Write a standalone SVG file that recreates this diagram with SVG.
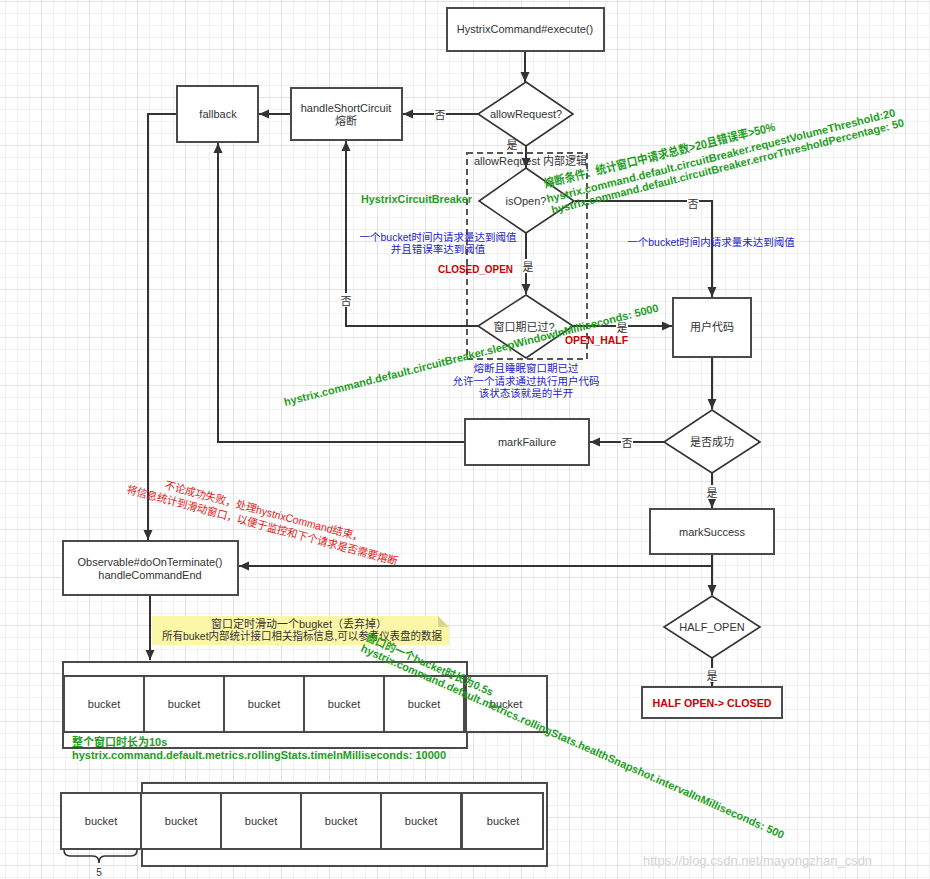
<svg xmlns="http://www.w3.org/2000/svg" width="930" height="879" viewBox="0 0 930 879">
<defs>
<pattern id="grid" x="41" y="1" width="48" height="48" patternUnits="userSpaceOnUse">
<rect width="48" height="48" fill="#ffffff"/>
<path d="M12.5 0V48M24.5 0V48M36.5 0V48M0 12.5H48M0 24.5H48M0 36.5H48" stroke="#f0f0f0" stroke-width="1"/>
<path d="M0.5 0V48M0 0.5H48" stroke="#e3e3e3" stroke-width="1"/>
</pattern>
<marker id="ah" viewBox="0 0 10 10" refX="10" refY="5" markerWidth="10" markerHeight="10" markerUnits="userSpaceOnUse" orient="auto">
<path d="M0,0.5 L10,5 L0,9.5 z" fill="#333"/>
</marker>
<style>
.box{fill:#ffffff;stroke:#4a4a4a;stroke-width:2}
.dia{fill:#ffffff;stroke:#333;stroke-width:1.6}
.t{font-family:"Liberation Sans","Noto Sans CJK SC",sans-serif;font-size:11px;fill:#333;text-anchor:middle}
.lbl{font-family:"Liberation Sans","Noto Sans CJK SC",sans-serif;font-size:11px;fill:#333;text-anchor:middle}
.c{fill:none;stroke:#333;stroke-width:2}
.ca{fill:none;stroke:#333;stroke-width:2;marker-end:url(#ah)}
.green{font-family:"Liberation Sans","Noto Sans CJK SC",sans-serif;font-size:11px;font-weight:bold;fill:#1e9e1e}
.red{font-family:"Liberation Sans","Noto Sans CJK SC",sans-serif;font-size:11px;font-weight:bold;fill:#cc0000}
.blue{font-family:"Liberation Sans","Noto Sans CJK SC",sans-serif;font-size:10.5px;fill:#2323c8;text-anchor:middle}
.redn{font-family:"Liberation Sans","Noto Sans CJK SC",sans-serif;font-size:11px;fill:#e02020}
.bg{fill:#ffffff}
</style>
</defs>
<rect x="0" y="0" width="930" height="879" fill="url(#grid)"/>

<!-- dashed group box -->
<g id="g-allowRequest-inner">
<rect x="467" y="153" width="120" height="206" fill="none" stroke="#555" stroke-width="2" stroke-dasharray="6 4"/>
<text class="t" x="474" y="165" style="text-anchor:start">allowRequest 内部逻辑</text>
</g>

<!-- connectors -->
<g id="connectors">
<path class="ca" d="M525,51 V82"/>
<path class="ca" d="M478,114 H403"/>
<path class="ca" d="M291,114 H259"/>
<path class="ca" d="M177,114 H148 V540"/>
<path class="ca" d="M526,146 V168"/>
<path class="ca" d="M575,201 H712 V297"/>
<path class="ca" d="M526,233 V294"/>
<path class="ca" d="M573,326 H672"/>
<path class="ca" d="M478,326 H346 V141"/>
<path class="ca" d="M712,357 V409"/>
<path class="ca" d="M664,442 H590"/>
<path class="ca" d="M465,442 H218 V143"/>
<path class="ca" d="M712,473 V508"/>
<path class="ca" d="M712,554 V595"/>
<path class="ca" d="M712,566 H239"/>
<path class="ca" d="M150,595 V660"/>
<path class="ca" d="M712,658 V686"/>
<g id="edge-labels">
<rect class="bg" x="434" y="107" width="12" height="14"/><text class="lbl" x="440" y="119">否</text>
<text class="lbl" x="512" y="149">是</text>
<rect class="bg" x="687" y="196" width="12" height="14"/><text class="lbl" x="693" y="208">否</text>
<rect class="bg" x="522" y="259" width="12" height="14"/><text class="lbl" x="528" y="271">是</text>
<rect class="bg" x="616" y="320" width="12" height="14"/><text class="lbl" x="622" y="332">是</text>
<rect class="bg" x="340" y="293" width="12" height="14"/><text class="lbl" x="346" y="305">否</text>
<rect class="bg" x="621" y="435" width="12" height="14"/><text class="lbl" x="627" y="447">否</text>
<rect class="bg" x="706" y="485" width="12" height="14"/><text class="lbl" x="712" y="497">是</text>
<rect class="bg" x="706" y="668" width="12" height="14"/><text class="lbl" x="712" y="680">是</text>
</g>
</g>

<!-- nodes -->
<g id="n-execute"><rect class="box" x="447" y="8" width="157" height="43"/><text class="t" x="525" y="33">HystrixCommand#execute()</text></g>
<g id="n-allowRequest"><polygon class="dia" points="526,82 573,114 526,146 478,114"/><text class="t" x="526" y="118">allowRequest?</text></g>
<g id="n-handleShortCircuit"><rect class="box" x="291" y="88" width="111" height="52"/><text class="t" x="346" y="112">handleShortCircuit</text><text class="t" x="346" y="125">熔断</text></g>
<g id="n-fallback"><rect class="box" x="177" y="86" width="81" height="56"/><text class="t" x="218" y="118">fallback</text></g>
<g id="n-isOpen"><polygon class="dia" points="526,168 574,201 526,233 479,201"/><text class="t" x="526" y="205">isOpen?</text></g>
<g id="n-windowPassed"><polygon class="dia" points="526,295 573,326 526,358 478,326"/><text class="t" x="524" y="331">窗口期已过?</text></g>
<g id="n-userCode"><rect class="box" x="673" y="298" width="78" height="59"/><text class="t" x="712" y="331">用户代码</text></g>
<g id="n-success"><polygon class="dia" points="712,410 760,442 712,473 664,442"/><text class="t" x="712" y="446">是否成功</text></g>
<g id="n-markFailure"><rect class="box" x="465" y="419" width="124" height="46"/><text class="t" x="527" y="446">markFailure</text></g>
<g id="n-markSuccess"><rect class="box" x="650" y="509" width="124" height="45"/><text class="t" x="712" y="536">markSuccess</text></g>
<g id="n-halfOpen"><polygon class="dia" points="712,596 760,627 712,658 664,627"/><text class="t" x="712" y="631">HALF_OPEN</text></g>
<g id="n-halfClosed"><rect class="box" x="642" y="687" width="140" height="31"/><text class="red" x="712" y="707" text-anchor="middle" textLength="119" lengthAdjust="spacingAndGlyphs">HALF OPEN-&gt; CLOSED</text></g>
<g id="n-observable"><rect class="box" x="63" y="541" width="175" height="54"/><text class="t" x="150" y="566">Observable#doOnTerminate()</text><text class="t" x="150" y="579">handleCommandEnd</text></g>

<g id="n-note">
<polygon points="152,616 438,616 449,627 449,645 152,645" fill="#fbf7a6"/>
<polygon points="438,616 449,627 438,627" fill="#d9d58a"/>
<text class="t" x="299" y="628">窗口定时滑动一个bugket（丢弃掉）</text>
<text class="t" x="302" y="640" textLength="280" lengthAdjust="spacingAndGlyphs">所有buket内部统计接口相关指标信息,可以参考仪表盘的数据</text>
</g>

<g id="n-window10s">
<rect class="box" x="63" y="662" width="404" height="86"/>
<rect class="box" x="64" y="676" width="80" height="56"/><text class="t" x="104" y="708">bucket</text>
<rect class="box" x="144" y="676" width="80" height="56"/><text class="t" x="184" y="708">bucket</text>
<rect class="box" x="224" y="676" width="80" height="56"/><text class="t" x="264" y="708">bucket</text>
<rect class="box" x="304" y="676" width="80" height="56"/><text class="t" x="344" y="708">bucket</text>
<rect class="box" x="384" y="676" width="80" height="56"/><text class="t" x="424" y="708">bucket</text>
</g>
<g id="n-bucket-next"><rect class="box" x="466" y="676" width="81" height="56"/><text class="t" x="506" y="708">bucket</text></g>

<g id="n-window-slid">
<rect class="box" x="142" y="783" width="405" height="83"/>
<rect class="box" x="141" y="793" width="80" height="56"/><text class="t" x="181" y="825">bucket</text>
<rect class="box" x="221" y="793" width="80" height="56"/><text class="t" x="261" y="825">bucket</text>
<rect class="box" x="301" y="793" width="80" height="56"/><text class="t" x="341" y="825">bucket</text>
<rect class="box" x="381" y="793" width="80" height="56"/><text class="t" x="421" y="825">bucket</text>
<rect class="box" x="462" y="793" width="81" height="56"/><text class="t" x="503" y="825">bucket</text>
</g>
<g id="n-bucket-old">
<rect class="box" x="61" y="793" width="80" height="56"/><text class="t" x="101" y="825">bucket</text>
<path d="M64,850 Q64,856 70,856 H93 Q99,856 99,863 Q99,856 105,856 H131 Q137,856 137,850" fill="none" stroke="#333" stroke-width="1.6"/>
<text class="t" x="99" y="876" style="font-size:10px">5</text>
</g>

<!-- annotations -->
<g id="annotations">
<text class="green" x="361" y="203" textLength="111" lengthAdjust="spacingAndGlyphs">HystrixCircuitBreaker</text>
<text class="blue" x="438" y="241">一个bucket时间内请求量达到阈值</text>
<text class="blue" x="438" y="253">并且错误率达到阈值</text>
<text class="red" x="438" y="273" textLength="75" lengthAdjust="spacingAndGlyphs">CLOSED_OPEN</text>
<text class="blue" x="711" y="246">一个bucket时间内请求量未达到阈值</text>
<text class="red" x="565" y="344" textLength="63" lengthAdjust="spacingAndGlyphs">OPEN_HALF</text>
<text class="blue" x="526" y="372">熔断且睡眠窗口期已过</text>
<text class="blue" x="526" y="385">允许一个请求通过执行用户代码</text>
<text class="blue" x="526" y="397">该状态该就是的半开</text>
<g transform="translate(545,188) rotate(-14)">
<text class="green" x="0" y="0" style="font-size:12px" textLength="238" lengthAdjust="spacingAndGlyphs">熔断条件：统计窗口中请求总数&gt;20且错误率&gt;50%</text>
<text class="green" x="-1" y="15" textLength="359" lengthAdjust="spacingAndGlyphs">hystrix.command.default.circuitBreaker.requestVolumeThreshold:20</text>
<text class="green" x="1" y="27" textLength="363" lengthAdjust="spacingAndGlyphs">hystrix.command.default.circuitBreaker.errorThresholdPercentage: 50</text>
</g>
<text class="green" transform="translate(285,406) rotate(-14.2)" x="0" y="0" textLength="386" lengthAdjust="spacingAndGlyphs">hystrix.command.default.circuitBreaker.sleepWindowInMilliseconds: 5000</text>
<g transform="translate(263,515) rotate(15)">
<text class="redn" x="0" y="0" text-anchor="middle" textLength="205" lengthAdjust="spacingAndGlyphs">不论成功失败，处理hystrixCommand结束，</text>
<text class="redn" x="2" y="14" text-anchor="middle" textLength="280" lengthAdjust="spacingAndGlyphs">将信息统计到滑动窗口，以便于监控和下个请求是否需要熔断</text>
</g>
<text class="green" x="72" y="746">整个窗口时长为10s</text>
<text class="green" x="72" y="759" textLength="374" lengthAdjust="spacingAndGlyphs">hystrix.command.default.metrics.rollingStats.timeInMilliseconds: 10000</text>
<g transform="translate(365,640) rotate(24)">
<text class="green" x="0" y="0" textLength="138" lengthAdjust="spacingAndGlyphs">窗口的一个bucket时长为0.5s</text>
<text class="green" x="0" y="12" textLength="462" lengthAdjust="spacingAndGlyphs">hystrix.command.default.metrics.rollingStats.healthSnapshot.intervalInMilliseconds: 500</text>
</g>
<text x="643" y="865" style="font-family:'Liberation Sans',sans-serif;font-size:13px;fill:#d4d4d4">https://blog.csdn.net/mayongzhan_csdn</text>
</g>
</svg>
